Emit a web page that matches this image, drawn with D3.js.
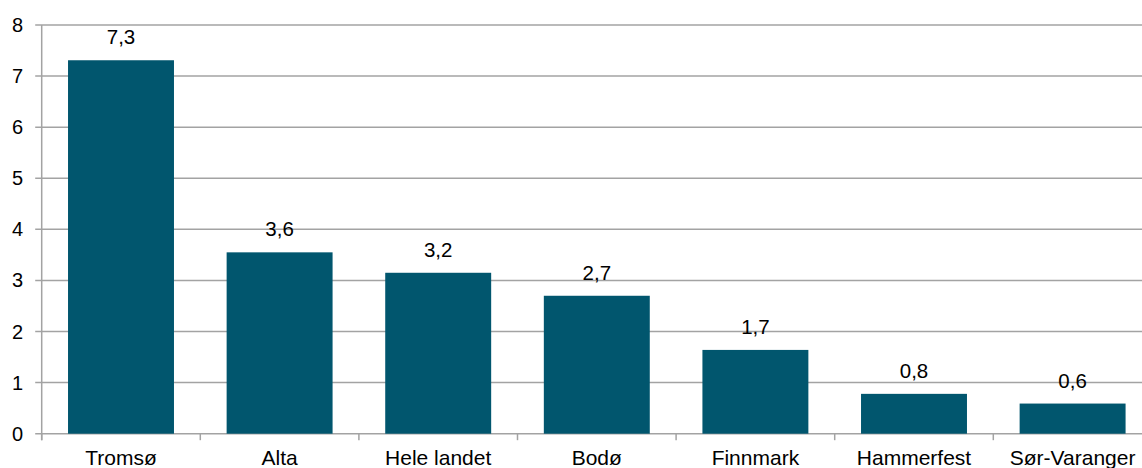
<!DOCTYPE html>
<html>
<head>
<meta charset="utf-8">
<script src="https://cdn.jsdelivr.net/npm/d3@7/dist/d3.min.js"></script>
<style>
html,body{margin:0;padding:0;background:#fff;overflow:hidden;}
text{font-family:"Liberation Sans",Arial,sans-serif;fill:#000;}
</style>
</head>
<body>
<svg id="chart" width="1142" height="468"></svg>
<script>
const categories = ["Tromsø","Alta","Hele landet","Bodø","Finnmark","Hammerfest","Sør-Varanger"];
const values = [7.31, 3.55, 3.15, 2.7, 1.64, 0.78, 0.59];
const valueLabels = ["7,3","3,6","3,2","2,7","1,7","0,8","0,6"];
const yTicks = [0,1,2,3,4,5,6,7,8];

const svg = d3.select("#chart");
const x0 = 41.7, y0 = 433.7, yTop = 25;
const step = 158.6;
const x = d3.scaleBand().domain(categories)
  .range([x0, x0 + step*categories.length])
  .paddingInner(0.332).paddingOuter(0.166);
const y = d3.scaleLinear().domain([0,8]).range([y0, yTop]);

const gridColor = "#a3a3a3";
// gridlines
svg.append("g").selectAll("line").data(yTicks).join("line")
  .attr("x1", x0 - 6.5).attr("x2", 1142)
  .attr("y1", d => y(d)).attr("y2", d => y(d))
  .attr("stroke", gridColor).attr("stroke-width", 1.5);

// y tick labels
svg.append("g").selectAll("text").data(yTicks).join("text")
  .attr("x", 23).attr("y", d => y(d))
  .attr("text-anchor", "end").attr("dominant-baseline", "central")
  .attr("font-size", 20).text(d => d);

// bars
svg.append("g").selectAll("rect").data(categories).join("rect")
  .attr("x", d => x(d)).attr("width", x.bandwidth())
  .attr("y", (d,i) => y(values[i])).attr("height", (d,i) => y0 - y(values[i]))
  .attr("fill", "#01566e");

// y axis line
svg.append("line").attr("x1", x0).attr("x2", x0).attr("y1", yTop).attr("y2", y0 + 6.5)
  .attr("stroke", gridColor).attr("stroke-width", 1.5);

// category ticks at band boundaries
const bounds = d3.range(categories.length + 1).map(i => x0 + i * x.step());
svg.append("g").selectAll("line").data(bounds).join("line")
  .attr("x1", d => d).attr("x2", d => d).attr("y1", y0).attr("y2", y0 + 6.5)
  .attr("stroke", gridColor).attr("stroke-width", 1.5);

// category labels
svg.append("g").selectAll("text").data(categories).join("text")
  .attr("x", d => x(d) + x.bandwidth()/2).attr("y", 465)
  .attr("text-anchor", "middle").attr("font-size", 21).text(d => d);

// value labels
svg.append("g").selectAll("text").data(categories).join("text")
  .attr("x", d => x(d) + x.bandwidth()/2).attr("y", (d,i) => y(values[i]) - 16)
  .attr("text-anchor", "middle").attr("font-size", 20.5).text((d,i) => valueLabels[i]);
</script>
</body>
</html>
